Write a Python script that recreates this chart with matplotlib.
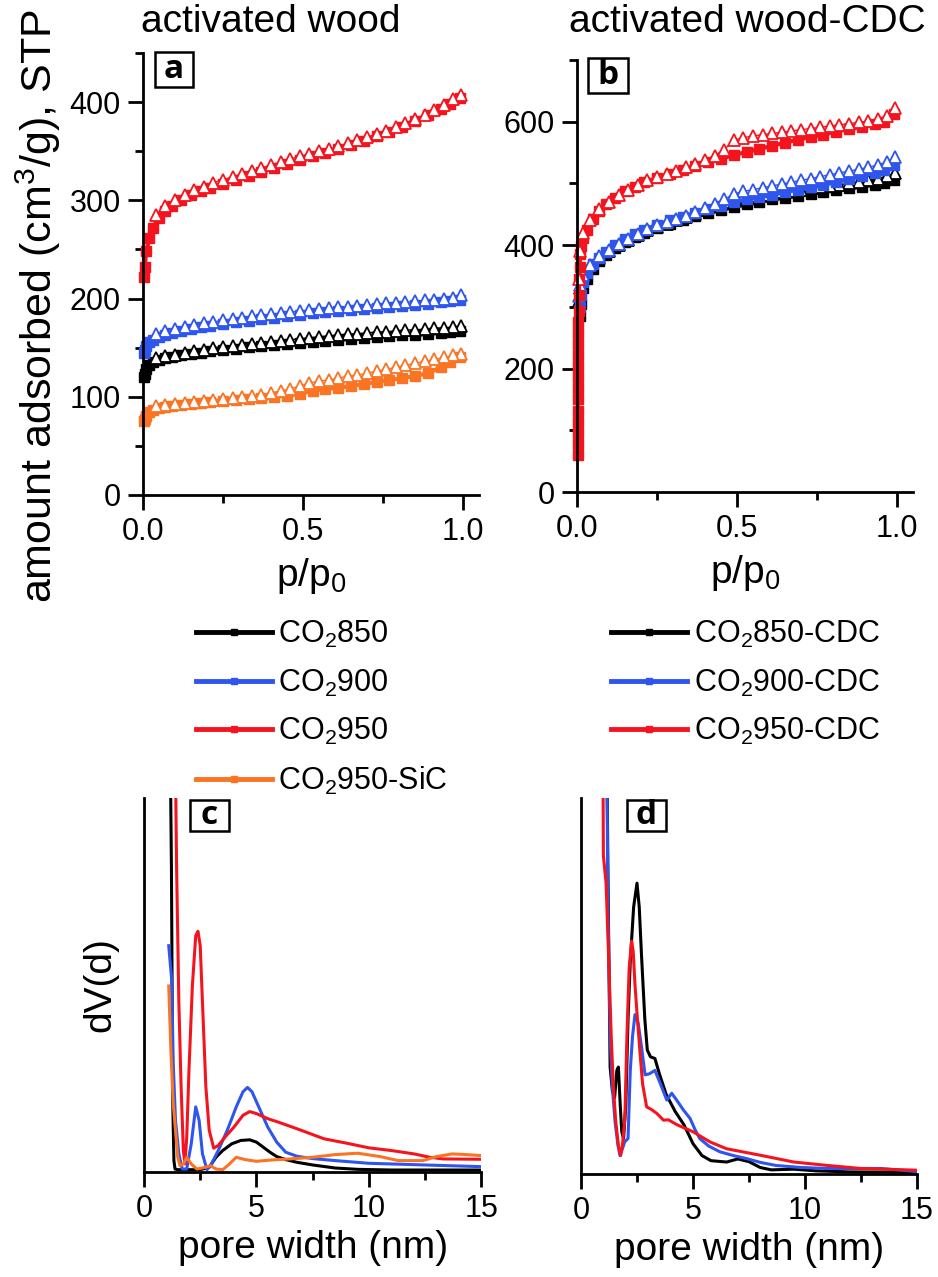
import numpy as np
import matplotlib
matplotlib.use("Agg")
import matplotlib.pyplot as plt
from matplotlib.ticker import MultipleLocator, NullLocator, FormatStrFormatter
from matplotlib.lines import Line2D
from matplotlib.patches import Rectangle

plt.rcParams["font.family"] = ["Liberation Sans", "DejaVu Sans"]
plt.rcParams["mathtext.fontset"] = "custom"
plt.rcParams["mathtext.rm"] = "Liberation Sans"
plt.rcParams["mathtext.it"] = "Liberation Sans:italic"

BLACK = "#000000"
BLUE = "#2e55ee"
RED = "#f5141e"
ORANGE = "#fa7423"

# ---- isotherms, panel a (activated wood) ----
p_ads_a = [0.003, 0.005, 0.01, 0.02, 0.03, 0.05, 0.07, 0.09, 0.12, 0.15, 0.18, 0.21, 0.25,
           0.29, 0.33, 0.37, 0.41, 0.45, 0.49, 0.53, 0.57, 0.61, 0.65, 0.69, 0.73,
           0.77, 0.81, 0.85, 0.89, 0.93, 0.96, 0.99]
p_des_a = [0.995, 0.97, 0.94, 0.91, 0.88, 0.85, 0.82, 0.79, 0.76, 0.73, 0.70, 0.67,
           0.64, 0.61, 0.58, 0.55, 0.52, 0.49, 0.46, 0.43, 0.40, 0.37, 0.34, 0.31,
           0.28, 0.25, 0.22, 0.19, 0.16, 0.13, 0.10, 0.07, 0.04]

ads_850 = [120, 123, 128, 132, 135, 137, 139, 140, 142, 144, 145, 147, 148, 149, 151, 152, 153,
           154, 155, 156, 157, 158, 159, 160, 161, 162, 163, 163, 164, 165, 166, 167]
des_850 = [172, 171, 170, 170, 169, 168, 168, 167, 166, 166, 165, 164, 164, 163, 162, 161,
           160, 159, 158, 157, 156, 155, 154, 153, 152, 151, 150, 148, 147, 145, 143, 141, 139]
ads_900 = [145, 148, 152, 156, 158, 161, 163, 165, 167, 169, 171, 172, 174, 176, 177, 179, 180,
           182, 183, 185, 186, 187, 188, 189, 190, 191, 192, 193, 194, 196, 197, 199]
des_900 = [204, 201, 200, 199, 198, 197, 196, 195, 195, 194, 193, 192, 191, 191, 190, 189,
           188, 187, 186, 185, 184, 183, 182, 180, 179, 178, 176, 175, 173, 171, 169, 167, 164]
ads_950 = [222, 232, 248, 262, 272, 282, 289, 294, 300, 305, 309, 313, 317, 321, 325, 329, 333,
           337, 341, 345, 348, 352, 356, 360, 365, 370, 375, 381, 387, 393, 398, 404]
des_950 = [407, 403, 397, 392, 387, 383, 379, 375, 371, 368, 364, 361, 358, 355, 352, 350,
           347, 345, 342, 339, 336, 333, 330, 327, 324, 321, 318, 314, 310, 305, 300, 294, 285]
ads_sic = [75, 77, 80, 84, 87, 89, 90, 91, 92, 93, 94, 95, 96, 97, 98, 99, 100,
           101, 103, 106, 108, 109, 111, 113, 115, 117, 119, 121, 124, 130, 135, 140]
des_sic = [144, 142, 140, 138, 136, 134, 132, 130, 128, 126, 124, 122, 121, 119, 117, 116,
           114, 111, 108, 106, 104, 102, 101, 100, 99, 98, 97, 96, 95, 94, 93, 92, 91]

# ---- isotherms, panel b (activated wood-CDC) ----
p_ads_b_red = [0.002, 0.0022, 0.0024, 0.0026, 0.0028, 0.003, 0.0032, 0.0034, 0.0036, 0.0038,
               0.004, 0.0043, 0.0046, 0.005, 0.006, 0.007, 0.008, 0.010, 0.012,
               0.02, 0.03, 0.05, 0.07, 0.09, 0.12, 0.15, 0.18, 0.21, 0.25, 0.29, 0.33, 0.37,
               0.41, 0.45, 0.49, 0.53, 0.57, 0.61, 0.65, 0.69, 0.73, 0.77, 0.81, 0.85, 0.89,
               0.93, 0.96, 0.99]
p_ads_b = [0.008, 0.012, 0.02, 0.03, 0.05, 0.07, 0.09, 0.12, 0.15, 0.18, 0.21, 0.25, 0.29,
           0.33, 0.37, 0.41, 0.45, 0.49, 0.53, 0.57, 0.61, 0.65, 0.69, 0.73, 0.77, 0.81,
           0.85, 0.89, 0.93, 0.96, 0.99]
p_des_b = [0.995, 0.97, 0.94, 0.91, 0.88, 0.85, 0.82, 0.79, 0.76, 0.73, 0.70, 0.67,
           0.64, 0.61, 0.58, 0.55, 0.52, 0.49, 0.46, 0.43, 0.40, 0.37, 0.34, 0.31,
           0.28, 0.25, 0.22, 0.19, 0.16, 0.13, 0.10, 0.07, 0.04, 0.02, 0.01, 0.005]

ads_850c = [285, 305, 330, 345, 362, 374, 384, 395, 405, 413, 420,
            428, 435, 441, 447, 452, 457, 462, 466, 470, 474, 477, 480, 483, 486, 489, 492,
            495, 498, 501, 506]
des_850c = [517, 512, 508, 505, 502, 500, 498, 496, 494, 492, 490, 488, 486, 484, 482, 480,
            478, 476, 470, 463, 457, 451, 446, 440, 435, 430, 424, 416, 408, 400, 390, 380,
            366, 350, 330, 310]
ads_900c = [300, 320, 340, 355, 370, 380, 389, 400, 410, 418, 425,
            433, 440, 446, 452, 458, 464, 470, 474, 478, 482, 486, 490, 494, 498, 502, 507,
            512, 517, 522, 530]
des_900c = [543, 535, 530, 526, 523, 520, 517, 514, 511, 508, 505, 502, 499, 496, 493, 490,
            487, 483, 474, 466, 460, 454, 448, 442, 437, 432, 426, 418, 410, 402, 392, 383,
            368, 352, 335, 318]
ads_950c = [60, 78, 96, 114, 132, 150, 168, 186, 204, 222, 240, 258, 276, 294, 320, 345,
            365, 385, 398, 412, 425, 442, 455, 466, 477, 487, 495, 502, 509, 516, 522, 528,
            534, 540, 546, 551, 556, 561, 566, 571, 575, 579, 584, 588, 592, 596, 600, 612]
des_950c = [622, 610, 604, 601, 599, 597, 595, 593, 591, 589, 587, 585, 583, 581, 579, 577,
            574, 570, 555, 545, 538, 532, 526, 520, 515, 510, 505, 498, 490, 481, 470, 458,
            440, 420, 390, 345]

# ---- pore size distributions, panel c ----
w_850 = [1.10, 1.16, 1.22, 1.28, 1.33, 1.38, 1.5, 2.0, 2.5, 2.9, 3.2, 3.5, 3.9, 4.3, 4.7,
         5.0, 5.3, 5.6, 5.9, 6.3, 6.8, 7.5, 8.5, 9.5, 11, 13, 15]
v_850 = [1.6, 1.3, 0.9, 0.2, 0.03, 0.005, 0.003, 0.003, 0.003, 0.01, 0.04, 0.06, 0.08, 0.09,
         0.092, 0.085, 0.07, 0.055, 0.042, 0.033, 0.025, 0.017, 0.008, 0.004, 0.002, 0.002, 0.002]
w_900 = [1.10, 1.23, 1.30, 1.40, 1.55, 1.70, 1.90, 2.10, 2.30, 2.45, 2.60, 2.80, 3.00, 3.30,
         3.70, 4.10, 4.40, 4.60, 4.80, 5.10, 5.50, 5.90, 6.30, 6.80, 7.50, 8.50, 10.0, 12.0,
         13.5, 15.0]
v_900 = [0.67, 0.57, 0.32, 0.15, 0.05, 0.005, 0.005, 0.08, 0.19, 0.15, 0.05, 0.003, 0.02,
         0.06, 0.12, 0.19, 0.235, 0.248, 0.235, 0.19, 0.13, 0.085, 0.055, 0.043, 0.036, 0.03,
         0.022, 0.018, 0.015, 0.012]
w_950 = [1.30, 1.40, 1.45, 1.55, 1.65, 1.75, 1.82, 1.90, 2.00, 2.15, 2.30, 2.40, 2.50, 2.60,
         2.75, 2.90, 3.10, 3.30, 3.60, 4.00, 4.40, 4.70, 5.00, 5.50, 6.00, 7.00, 8.00, 9.00,
         10.0, 11.0, 12.0, 12.7, 13.3, 15.0]
v_950 = [1.5, 1.2, 0.9, 0.5, 0.25, 0.06, 0.02, 0.1, 0.3, 0.55, 0.70, 0.713, 0.67, 0.5, 0.25,
         0.12, 0.067, 0.075, 0.1, 0.13, 0.165, 0.176, 0.17, 0.155, 0.144, 0.12, 0.095, 0.082,
         0.068, 0.06, 0.05, 0.04, 0.035, 0.034]
w_sic = [1.10, 1.20, 1.30, 1.40, 1.50, 1.60, 1.75, 1.90, 2.10, 2.35, 2.60, 2.95, 3.20, 3.50,
         3.80, 4.10, 4.50, 5.00, 5.70, 6.50, 7.50, 8.50, 9.50, 10.5, 11.3, 12.4, 13.0, 13.7,
         14.3, 15.0]
v_sic = [0.55, 0.35, 0.2, 0.12, 0.04, 0.015, 0.02, 0.04, 0.02, 0.005, 0.008, 0.015, 0.005,
         0.003, 0.02, 0.04, 0.033, 0.028, 0.032, 0.035, 0.04, 0.048, 0.052, 0.042, 0.03, 0.03,
         0.042, 0.05, 0.048, 0.045]

# ---- pore size distributions, panel d ----
w_850c = [1.12, 1.20, 1.30, 1.40, 1.50, 1.60, 1.67, 1.75, 1.82, 1.90, 2.00, 2.10, 2.20, 2.35,
          2.50, 2.60, 2.70, 2.85, 2.96, 3.10, 3.30, 3.50, 3.80, 4.20, 4.60, 5.00, 5.40, 5.80,
          6.50, 7.00, 7.50, 8.00, 8.50, 9.50, 10.5, 12.0, 15.0]
v_850c = [1.5, 0.9, 0.31, 0.24, 0.22, 0.30, 0.31, 0.2, 0.12, 0.1, 0.2, 0.45, 0.62, 0.78,
          0.85, 0.78, 0.64, 0.45, 0.36, 0.34, 0.335, 0.29, 0.23, 0.18, 0.14, 0.085, 0.05,
          0.035, 0.031, 0.04, 0.032, 0.015, 0.008, 0.01, 0.005, 0.002, 0.001]
w_900c = [1.12, 1.20, 1.30, 1.40, 1.52, 1.65, 1.74, 1.85, 1.95, 2.10, 2.20, 2.30, 2.41, 2.55,
          2.70, 2.86, 3.05, 3.30, 3.55, 3.83, 4.05, 4.30, 4.57, 4.87, 5.10, 5.30, 5.70, 6.20,
          6.80, 7.40, 8.00, 8.70, 9.80, 11.0, 13.4, 15.0]
v_900c = [1.5, 0.8, 0.40, 0.25, 0.15, 0.08, 0.05, 0.07, 0.09, 0.1, 0.3, 0.4, 0.464, 0.44,
          0.37, 0.287, 0.29, 0.30, 0.26, 0.213, 0.233, 0.21, 0.184, 0.159, 0.125, 0.1, 0.078,
          0.061, 0.05, 0.041, 0.03, 0.021, 0.015, 0.012, 0.012, 0.003]
w_950c = [0.98, 1.00, 1.12, 1.25, 1.35, 1.44, 1.55, 1.67, 1.77, 1.85, 1.96, 2.05, 2.15, 2.26,
          2.33, 2.41, 2.52, 2.63, 2.75, 2.93, 3.15, 3.38, 3.68, 3.90, 4.30, 5.00, 5.76, 6.50,
          8.00, 9.50, 11.0, 12.5, 15.0]
v_950c = [1.2, 0.93, 0.85, 0.6, 0.4, 0.26, 0.15, 0.08, 0.05, 0.08, 0.16, 0.4, 0.6, 0.68,
          0.65, 0.552, 0.45, 0.356, 0.26, 0.193, 0.185, 0.174, 0.154, 0.155, 0.14, 0.12, 0.09,
          0.07, 0.051, 0.031, 0.021, 0.012, 0.007]

labels_a = [r"CO$_2$850", r"CO$_2$900", r"CO$_2$950", r"CO$_2$950-SiC"]
labels_b = [r"CO$_2$850-CDC", r"CO$_2$900-CDC", r"CO$_2$950-CDC"]


def style_axes(ax):
    for s in ["top", "right"]:
        ax.spines[s].set_visible(False)
    for s in ["left", "bottom"]:
        ax.spines[s].set_linewidth(2)
    ax.tick_params(which="major", length=11, width=2, labelsize=22, direction="out", pad=5)
    ax.tick_params(which="minor", length=5.5, width=2, direction="out")


def box_label(ax, txt, x0, y0, x1, y1):
    ax.add_patch(Rectangle((x0, y0), x1 - x0, y1 - y0, transform=ax.transAxes,
                           fc="white", ec="black", lw=1.8, clip_on=False, zorder=10))
    ax.text((x0 + x1) / 2, (y0 + y1) / 2, txt, transform=ax.transAxes, ha="center",
            va="center", fontsize=24, fontweight="bold", family="Open Sans", zorder=11)


def isotherm(ax, p_ads, ads, p_des, des, color):
    ax.plot(p_ads, ads, color=color, lw=3, marker="s", ms=6.5, mec=color, mfc=color,
            clip_on=False)
    ax.plot(p_des, des, color=color, lw=1.0, marker="^", ms=8.5, mec=color, mfc="white",
            mew=1.3, clip_on=False)


fig = plt.figure(figsize=(9.38, 12.77), dpi=100)

# panel a
ax_a = fig.add_axes([0.1525, 0.6124, 0.3582, 0.3461])
isotherm(ax_a, p_ads_a, ads_850, p_des_a, des_850, BLACK)
isotherm(ax_a, p_ads_a, ads_900, p_des_a, des_900, BLUE)
isotherm(ax_a, p_ads_a, ads_950, p_des_a, des_950, RED)
isotherm(ax_a, p_ads_a, ads_sic, p_des_a, des_sic, ORANGE)
ax_a.set_xlim(0, 1.05)
ax_a.set_ylim(0, 450)
ax_a.xaxis.set_major_locator(MultipleLocator(0.5))
ax_a.xaxis.set_minor_locator(MultipleLocator(0.25))
ax_a.yaxis.set_major_locator(MultipleLocator(100))
ax_a.yaxis.set_minor_locator(MultipleLocator(50))
ax_a.xaxis.set_major_formatter(FormatStrFormatter("%.1f"))
style_axes(ax_a)
ax_a.set_xlabel(r"p/p$_0$", fontsize=28, labelpad=6)
box_label(ax_a, "a", 0.036, 0.923, 0.149, 1.002)

# panel b
ax_b = fig.add_axes([0.6151, 0.6147, 0.3582, 0.3383])
isotherm(ax_b, p_ads_b, ads_850c, p_des_b, des_850c, BLACK)
isotherm(ax_b, p_ads_b, ads_900c, p_des_b, des_900c, BLUE)
isotherm(ax_b, p_ads_b_red, ads_950c, p_des_b, des_950c, RED)
ax_b.set_xlim(0, 1.05)
ax_b.set_ylim(0, 700)
ax_b.xaxis.set_major_locator(MultipleLocator(0.5))
ax_b.xaxis.set_minor_locator(MultipleLocator(0.25))
ax_b.yaxis.set_major_locator(MultipleLocator(200))
ax_b.yaxis.set_minor_locator(MultipleLocator(100))
ax_b.xaxis.set_major_formatter(FormatStrFormatter("%.1f"))
style_axes(ax_b)
ax_b.set_xlabel(r"p/p$_0$", fontsize=28, labelpad=6)
box_label(ax_b, "b", 0.033, 0.924, 0.152, 1.005)

# panel c
ax_c = fig.add_axes([0.1535, 0.0822, 0.3598, 0.2929])
ax_c.plot(w_850, v_850, color=BLACK, lw=2.2)
ax_c.plot(w_900, v_900, color=BLUE, lw=2.2)
ax_c.plot(w_950, v_950, color=RED, lw=2.2)
ax_c.plot(w_sic, v_sic, color=ORANGE, lw=2.2)
ax_c.set_xlim(0, 15)
ax_c.set_ylim(-0.004, 1.11)
ax_c.xaxis.set_major_locator(MultipleLocator(5))
ax_c.xaxis.set_minor_locator(MultipleLocator(2.5))
ax_c.yaxis.set_major_locator(NullLocator())
style_axes(ax_c)
ax_c.set_xlabel("pore width (nm)", fontsize=28, labelpad=4)
box_label(ax_c, "c", 0.136, 0.912, 0.252, 0.995)

# panel d
ax_d = fig.add_axes([0.6194, 0.0807, 0.3582, 0.2944])
ax_d.plot(w_850c, v_850c, color=BLACK, lw=2.2)
ax_d.plot(w_900c, v_900c, color=BLUE, lw=2.2)
ax_d.plot(w_950c, v_950c, color=RED, lw=2.2)
ax_d.set_xlim(0, 15)
ax_d.set_ylim(-0.004, 1.10)
ax_d.xaxis.set_major_locator(MultipleLocator(5))
ax_d.xaxis.set_minor_locator(MultipleLocator(2.5))
ax_d.yaxis.set_major_locator(NullLocator())
style_axes(ax_d)
ax_d.set_xlabel("pore width (nm)", fontsize=28, labelpad=4)
box_label(ax_d, "d", 0.136, 0.912, 0.252, 0.995)

# shared texts
fig.text(141 / 938, 1 - 22 / 1277, "activated wood", fontsize=28, va="center", ha="left")
fig.text(569 / 938, 1 - 22 / 1277, "activated wood-CDC", fontsize=28, va="center", ha="left")
fig.text(38 / 938, 1 - 306 / 1277, r"amount adsorbed (cm$^3$/g), STP", fontsize=31,
         rotation=90, va="center", ha="center")
fig.text(100 / 938, 1 - 985 / 1277, "dV(d)", fontsize=28, rotation=90, va="center", ha="center")


# legends
def handles(colors):
    return [Line2D([], [], color=c, lw=3.5, marker="s", ms=5, mfc=c, mec=c) for c in colors]


leg_kw = dict(frameon=False, fontsize=22, handlelength=2.5, handletextpad=0.2,
              labelspacing=0.57, borderaxespad=0, borderpad=0)
fig.legend(handles([BLACK, BLUE, RED, ORANGE]), labels_a, loc="upper left",
           bbox_to_anchor=(196 / 938, 1 - 619 / 1277), **leg_kw)
fig.legend(handles([BLACK, BLUE, RED]), labels_b, loc="upper left",
           bbox_to_anchor=(611 / 938, 1 - 619 / 1277), **leg_kw)

fig.savefig("out.png", dpi=100)
